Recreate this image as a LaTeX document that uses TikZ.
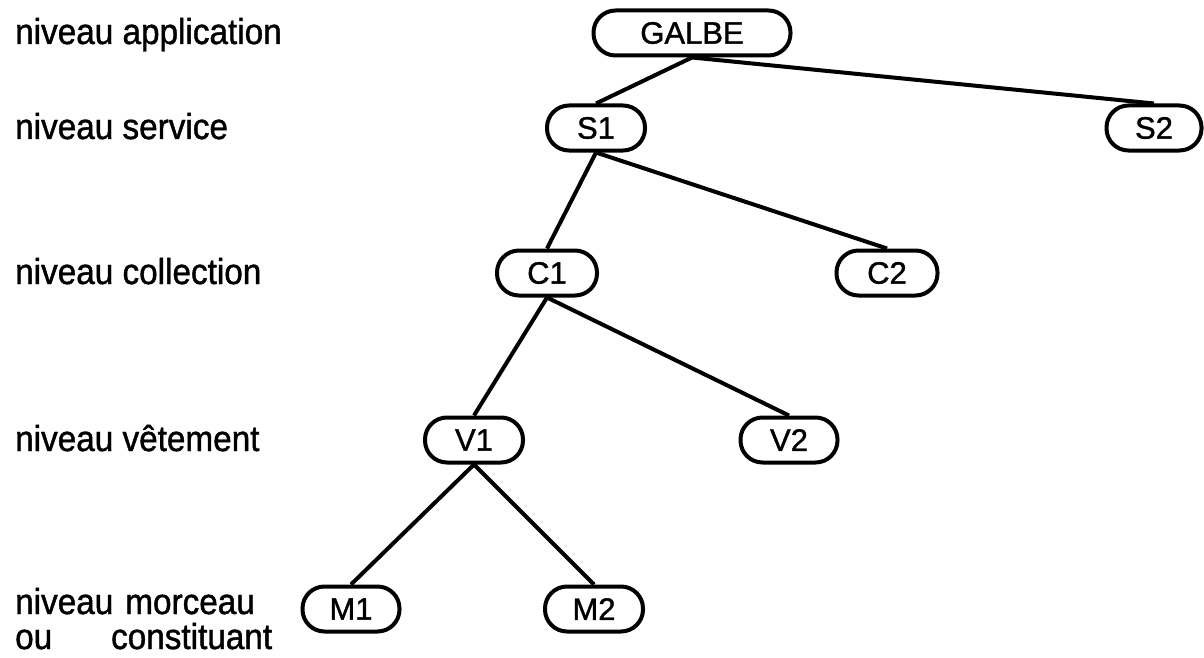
\documentclass[tikz,border=0pt]{standalone}
\usepackage{fontspec}
\setmainfont[FakeBold=1.2]{Liberation Sans}
\newfontfamily\labfont[FakeStretch=0.925,FakeBold=1.2]{Liberation Sans}
\begin{document}
\begin{tikzpicture}[x=1pt,y=-1pt,
  box/.style={draw,line width=4pt,rounded corners=22pt,minimum height=45pt,minimum width=98pt,inner sep=0pt,font=\fontsize{31}{31}\selectfont},
  edge/.style={line width=4pt},
  lab/.style={anchor=base west,inner sep=0pt,font=\labfont\fontsize{36}{35}\selectfont}]
\useasboundingbox (0,0) rectangle (1204,658);
\node[box,minimum width=197pt] (g) at (692,33) {GALBE};
\node[box] (s1) at (596,128) {S1};
\node[box,minimum width=95pt] (s2) at (1154,128) {S2};
\node[box,minimum width=100pt] (c1) at (547,273) {C1};
\node[box,minimum width=101pt] (c2) at (887,273) {C2};
\node[box] (v1) at (474,440) {V1};
\node[box,minimum width=97pt] (v2) at (789,440) {V2};
\node[box,minimum width=97pt] (m1) at (351,609) {M1};
\node[box] (m2) at (594,609) {M2};
\draw[edge] (g.south) -- (s1.north);
\draw[edge] (g.south) -- (s2.north);
\draw[edge] (s1.south) -- (c1.north);
\draw[edge] (s1.south) -- (c2.north);
\draw[edge] (c1.south) -- (v1.north);
\draw[edge] (c1.south) -- (v2.north);
\draw[edge] (v1.south) -- (m1.north);
\draw[edge] (v1.south) -- (m2.north);
\node[lab] (l1) at (15,44) {niveau application};
\node[lab] (l2) at (15,139) {niveau service};
\node[lab] (l3) at (15,284) {niveau collection};
\node[lab] (l4) at (15,451) {niveau vêtement};
\node[lab,align=left,text width=257pt] (l5) at (15,614) {niveau morceau\\ou\hfill constituant};
\end{tikzpicture}
\end{document}
